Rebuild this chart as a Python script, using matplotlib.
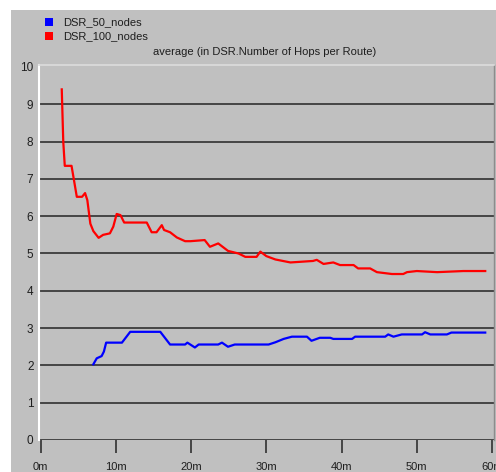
import matplotlib
matplotlib.use("Agg")
import matplotlib.pyplot as plt
from matplotlib.patches import Rectangle

# ---- data (minutes, average hops per route) ----
red_t = [2.8, 3.0, 3.2, 4.1, 4.8, 5.5, 5.9, 6.2, 6.6, 7.0, 7.7, 8.3, 9.2, 9.65,
         10.1, 10.6, 11.1, 14.1, 14.75, 15.4, 16.1, 16.4, 17.2, 18.1, 19.2, 19.9,
         21.8, 22.5, 23.6, 24.9, 26.3, 27.2, 28.7, 29.2, 30.0, 31.2, 33.2, 36.2,
         36.7, 37.6, 38.9, 39.8, 41.6, 42.2, 43.8, 44.7, 46.7, 48.2, 48.7, 50.0,
         52.7, 56.2, 59.1]
red_v = [9.4, 8.0, 7.35, 7.35, 6.52, 6.52, 6.62, 6.43, 5.8, 5.6, 5.42, 5.5, 5.54, 5.72,
         6.06, 6.03, 5.83, 5.83, 5.57, 5.57, 5.76, 5.63, 5.57, 5.43, 5.33, 5.33,
         5.36, 5.18, 5.27, 5.07, 5.0, 4.91, 4.91, 5.05, 4.93, 4.84, 4.76, 4.8,
         4.83, 4.72, 4.76, 4.69, 4.69, 4.6, 4.6, 4.5, 4.45, 4.45, 4.5, 4.53,
         4.5, 4.53, 4.53]

blue_t = [7.0, 7.45, 8.1, 8.4, 8.7, 10.8, 11.9, 15.9, 17.2, 19.2, 19.5, 20.5, 21.0,
          23.6, 24.1, 24.9, 25.8, 30.3, 31.2, 32.3, 33.4, 35.4, 36.0, 37.1, 38.5,
          38.9, 41.4, 41.8, 45.8, 46.2, 46.9, 48.0, 50.7, 51.1, 51.8, 54.0, 54.6, 59.1]
blue_v = [2.03, 2.19, 2.25, 2.37, 2.61, 2.61, 2.9, 2.9, 2.56, 2.56, 2.61, 2.48, 2.56,
          2.56, 2.61, 2.5, 2.56, 2.56, 2.62, 2.71, 2.77, 2.77, 2.66, 2.74, 2.74,
          2.71, 2.71, 2.77, 2.77, 2.83, 2.77, 2.83, 2.83, 2.89, 2.83, 2.83, 2.88, 2.88]

series_names = ["DSR_50_nodes", "DSR_100_nodes"]
title = "average (in DSR.Number of Hops per Route)"
x_ticks = [0, 10, 20, 30, 40, 50, 60]
x_labels = ["0m", "10m", "20m", "30m", "40m", "50m", "60m"]
y_ticks = [0, 1, 2, 3, 4, 5, 6, 7, 8, 9, 10]

W, H = 496, 472
GRAY = "#c0c0c0"
TXT = "#1e1e1e"
plt.rcParams["font.family"] = ["Liberation Sans", "DejaVu Sans"]

fig = plt.figure(figsize=(W / 100, H / 100), dpi=100)
fig.patch.set_facecolor("white")


def fx(px):
    return px / W


def fy(py):
    return 1 - py / H


fig.patches.append(Rectangle((fx(11), 0), 1 - fx(11), fy(10), transform=fig.transFigure,
                             facecolor=GRAY, edgecolor="none", zorder=-5))

ax_l, ax_r, ax_t, ax_b = 39, 494, 65, 440
ax = fig.add_axes([fx(ax_l), fy(ax_b), fx(ax_r) - fx(ax_l), fy(ax_t) - fy(ax_b)])
ax.set_zorder(2)
ax.set_facecolor(GRAY)

pxmin = (492 - 40.7) / 60.0
ax.set_xlim(-(40.7 - ax_l) / pxmin, 60 + (ax_r - 492) / pxmin)
ax.set_ylim(0, 10 + (440 - 37.3 * 10 - ax_t) / 37.3)

for y in range(0, 10):
    ax.axhline(y, color="#3c3c3c", lw=1.3, zorder=1, xmin=0.003)

ax.plot(red_t, red_v, color="#ff0000", lw=1.6, zorder=3)
ax.plot(blue_t, blue_v, color="#0000ff", lw=1.6, zorder=3)

ax.spines["left"].set_color("white")
ax.spines["left"].set_linewidth(1.5)
ax.spines["top"].set_color("#dcdcdc")
ax.spines["top"].set_linewidth(1.2)
ax.spines["right"].set_color("#8c8c8c")
ax.spines["right"].set_linewidth(1.0)
ax.spines["bottom"].set_visible(False)

ax.set_xticks(x_ticks)
ax.set_xticklabels(x_labels)
ax.tick_params(axis="x", direction="out", length=9, width=1.3, color="#3c3c3c",
               labelsize=8, labelcolor=TXT, pad=7)
ax.set_yticks(y_ticks)
ax.set_yticklabels([str(v) for v in y_ticks])
ax.tick_params(axis="y", length=0, labelsize=8.5, labelcolor=TXT, pad=4)

# legend & title
fig.patches.append(Rectangle((fx(45), fy(26)), fx(8), 8 / H, transform=fig.transFigure,
                             facecolor="#0000ff", edgecolor="none", zorder=3))
fig.patches.append(Rectangle((fx(45), fy(40)), fx(8), 8 / H, transform=fig.transFigure,
                             facecolor="#ff0000", edgecolor="none", zorder=3))
fig.text(fx(63), fy(22), series_names[0], fontsize=8, color=TXT, va="center", ha="left")
fig.text(fx(63), fy(36), series_names[1], fontsize=8, color=TXT, va="center", ha="left")
fig.text(fx(265), fy(52), title, fontsize=8, color=TXT, va="center", ha="center")

fig.savefig("out.png", dpi=100)
